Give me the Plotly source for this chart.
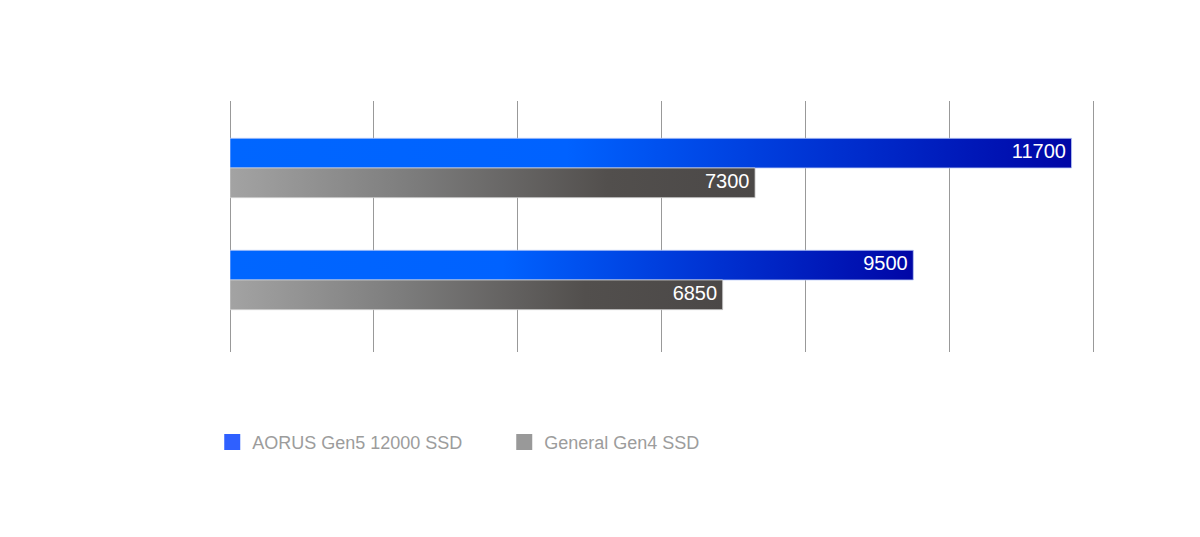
import plotly.graph_objects as go

# two benchmark groups (top to bottom), values in MB/s
groups = ["Sequential Read", "Sequential Write"]
series_names = ["AORUS Gen5 12000 SSD", "General Gen4 SSD"]
aorus_values = [11700, 9500]
general_values = [7300, 6850]

legend_colors = ["#2f60ff", "#999999"]
blue_scale = [[0, "#0066ff"], [0.4, "#0062ff"], [0.72, "#0030d0"], [1, "#0006a6"]]
gray_scale = [[0, "#a3a3a3"], [0.35, "#7c7c7c"], [0.72, "#524f4d"], [1, "#4b4847"]]

BAR_H = 0.265  # bar thickness in category units
fig = go.Figure()


def add_bar(value, y_center, side, scale, edge):
    # rectangle from the axis origin to the value, filled with a horizontal gradient
    y0 = y_center if side > 0 else y_center - BAR_H
    y1 = y_center + BAR_H if side > 0 else y_center
    fig.add_trace(go.Scatter(
        x=[0, value, value, 0, 0],
        y=[y0, y0, y1, y1, y0],
        mode="lines",
        fill="toself",
        fillgradient=dict(type="horizontal", colorscale=scale),
        line=dict(color=edge, width=0.8),
        hoverinfo="skip",
        showlegend=False,
    ))
    fig.add_trace(go.Scatter(
        x=[value], y=[(y0 + y1) / 2],
        mode="text",
        text=[f"{value} "],
        textposition="middle left",
        textfont=dict(color="white", size=20, family="Liberation Sans, Arial"),
        hoverinfo="skip",
        showlegend=False,
    ))


for i, g in enumerate(groups):
    add_bar(aorus_values[i], i, -1, blue_scale, "#b9c8f5")
    add_bar(general_values[i], i, 1, gray_scale, "#d0d0d0")

# legend entries
for name, col in zip(series_names, legend_colors):
    fig.add_trace(go.Scatter(
        x=[None], y=[None], mode="markers", name=name,
        marker=dict(symbol="square", size=18, color=col),
    ))

fig.update_layout(
    width=1200, height=537,
    margin=dict(l=222, r=112, t=93, b=193),
    paper_bgcolor="white", plot_bgcolor="white",
    font=dict(family="Liberation Sans, Arial", color="#999999"),
    xaxis=dict(
        range=[0, 12040], tickvals=[0, 2000, 4000, 6000, 8000, 10000, 12000],
        showticklabels=False,
        showgrid=True, gridcolor="#999999", gridwidth=1,
        zeroline=True, zerolinecolor="#999999", zerolinewidth=1,
        showline=False, fixedrange=True,
    ),
    yaxis=dict(
        range=[1.643, -0.598], showticklabels=False, showgrid=False,
        zeroline=False, fixedrange=True,
    ),
    legend=dict(
        orientation="h", x=-0.0205, y=-0.36, xanchor="left", yanchor="middle",
        font=dict(size=18, color="#9c9c9c"),
        entrywidth=247, itemsizing="trace",
    ),
    showlegend=True,
)

fig.write_html("out.html")
